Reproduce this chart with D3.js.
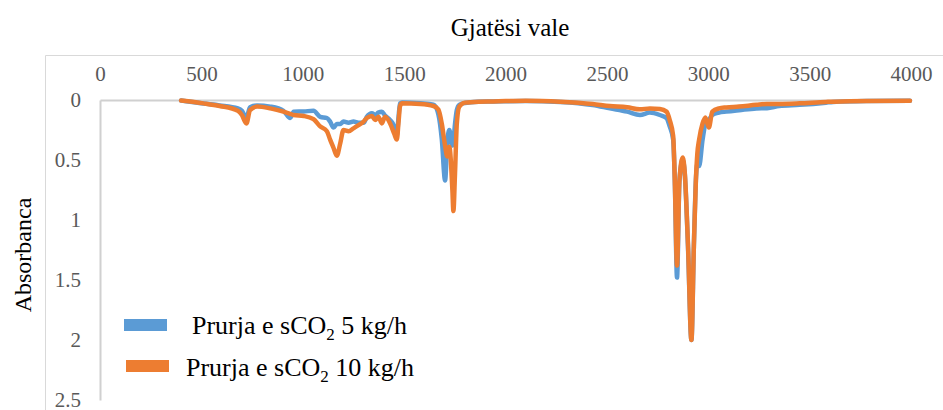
<!DOCTYPE html>
<html>
<head>
<meta charset="utf-8">
<script src="https://cdn.jsdelivr.net/npm/d3@7"></script>
<style>
  html, body { margin: 0; padding: 0; background: #fff; }
  svg { display: block; }
  svg text { font-family: "Liberation Serif", "Times New Roman", "DejaVu Serif", serif; }
</style>
</head>
<body>
<svg id="chart" width="943" height="410"></svg>
<script>
// FTIR spectra: absorbance vs wavenumber (cm-1) for two sCO2 flow rates
const wavenumbers = [
  400, 510, 590, 680, 700, 722, 740, 775, 840, 905, 938, 955, 1005, 1053, 1086,
  1119, 1135, 1152, 1168, 1185, 1201, 1226, 1250, 1275, 1300, 1316, 1341, 1357,
  1373, 1390, 1406, 1431, 1451, 1464, 1472, 1480, 1490, 1580, 1645, 1669, 1686,
  1702, 1713, 1723, 1738, 1743, 1751, 1760, 1772, 1800, 1866, 1940, 2100, 2270,
  2430, 2515, 2600, 2663, 2712, 2761, 2794, 2810, 2827, 2835, 2846, 2858, 2874,
  2884, 2900, 2917, 2929, 2939, 2946, 2955, 2972, 2986, 3003, 3020, 3053, 3089,
  3152, 3237, 3290, 3350, 3450, 3580, 3615, 3780, 3995
];

const flow5 = [
  0.005, 0.03, 0.045, 0.07, 0.09, 0.15, 0.06, 0.045, 0.055, 0.09, 0.15, 0.097, 0.095, 0.09, 0.14,
  0.15, 0.18, 0.23, 0.2, 0.2, 0.18, 0.19, 0.18, 0.19, 0.19, 0.14, 0.11, 0.125,
  0.105, 0.097, 0.13, 0.167, 0.22, 0.3, 0.15, 0.028, 0.02, 0.028, 0.04, 0.12, 0.33,
  0.67, 0.35, 0.25, 0.38, 0.35, 0.2, 0.083, 0.04, 0.025, 0.014, 0.012, 0.008, 0.016,
  0.042, 0.07, 0.097, 0.125, 0.105, 0.125, 0.15, 0.22, 0.33, 0.67, 1.48, 0.67, 0.5,
  0.61, 1.22, 2.0, 1.22, 0.67, 0.53, 0.55, 0.33, 0.2, 0.167, 0.125, 0.105, 0.097,
  0.085, 0.07, 0.068, 0.05, 0.04, 0.022, 0.016, 0.008, 0.006
];

const flow10 = [
  0.005, 0.028, 0.05, 0.09, 0.125, 0.195, 0.085, 0.055, 0.07, 0.097, 0.115, 0.125, 0.133, 0.16, 0.22,
  0.26, 0.33, 0.4, 0.465, 0.36, 0.25, 0.26, 0.236, 0.21, 0.18, 0.15, 0.133, 0.167,
  0.14, 0.195, 0.14, 0.195, 0.28, 0.33, 0.195, 0.05, 0.028, 0.033, 0.05, 0.08, 0.2,
  0.38, 0.47, 0.39, 0.75, 0.925, 0.61, 0.195, 0.055, 0.022, 0.014, 0.012, 0.006, 0.014,
  0.033, 0.05, 0.06, 0.078, 0.07, 0.075, 0.097, 0.167, 0.3, 0.67, 1.38, 0.67, 0.48,
  0.6, 1.2, 2.0, 1.22, 0.67, 0.45, 0.33, 0.195, 0.145, 0.23, 0.097, 0.07, 0.062,
  0.055, 0.04, 0.033, 0.033, 0.028, 0.016, 0.014, 0.008, 0.006
];

const xTicks = [0, 500, 1000, 1500, 2000, 2500, 3000, 3500, 4000];
const yTicks = [0, 0.5, 1, 1.5, 2, 2.5];

const seriesNames = ["Prurja e sCO", "Prurja e sCO"];
const seriesUnits = ["5 kg/h", "10 kg/h"];
const seriesColors = ["#5B9BD5", "#ED7D31"];

const serif = "'Liberation Serif', 'Times New Roman', 'DejaVu Serif', serif";
const svg = d3.select("#chart");
const gray = "#595959";
const axisGray = "#d0d0d0";

// chart frame
svg.append("path")
  .attr("d", "M45.5,410 L45.5,55.5 L943,55.5")
  .attr("fill", "none")
  .attr("stroke", "#d9d9d9")
  .attr("stroke-width", 1);

const plot = { left: 100, right: 911, top: 100, bottom: 400 };

const x = d3.scaleLinear().domain([0, 4000]).range([plot.left, plot.right]);
const y = d3.scaleLinear().domain([0, 2.5]).range([plot.top, plot.bottom]);

// top axis (wavenumber)
const xAxis = d3.axisTop(x).tickValues(xTicks).tickSize(0).tickPadding(19)
  .tickFormat(d3.format("d"));
const gx = svg.append("g").attr("transform", `translate(0,${plot.top})`).call(xAxis)
  .attr("font-family", serif);
gx.select(".domain").attr("stroke", axisGray).attr("stroke-width", 2);
gx.selectAll("text")
  .attr("fill", gray)
  .style("font-size", "21px")
  .style("font-family", serif);

// left axis (absorbance, reversed)
const yAxis = d3.axisLeft(y).tickValues(yTicks).tickSize(0).tickPadding(19)
  .tickFormat(d => d3.format("")(d));
const gy = svg.append("g").attr("transform", `translate(${plot.left},0)`).call(yAxis)
  .attr("font-family", serif);
gy.select(".domain").attr("stroke", axisGray).attr("stroke-width", 2);
gy.selectAll("text")
  .attr("fill", gray)
  .style("font-size", "21px")
  .style("font-family", serif);

// axis titles
svg.append("text")
  .attr("x", 510).attr("y", 36)
  .attr("text-anchor", "middle")
  .attr("fill", "#000")
  .style("font-family", serif)
  .style("font-size", "25px")
  .text("Gjatësi vale");

svg.append("text")
  .attr("transform", "translate(31,255) rotate(-90)")
  .attr("text-anchor", "middle")
  .attr("fill", "#000")
  .style("font-family", serif)
  .style("font-size", "24px")
  .text("Absorbanca");

// spectra
const line = d3.line()
  .x(d => x(d[0]))
  .y(d => y(d[1]))
  .curve(d3.curveMonotoneX);

[flow5, flow10].forEach((vals, i) => {
  const pts = wavenumbers.map((w, k) => [w, vals[k]]);
  svg.append("path")
    .datum(pts)
    .attr("fill", "none")
    .attr("stroke", seriesColors[i])
    .attr("stroke-width", 4.5)
    .attr("stroke-linejoin", "round")
    .attr("stroke-linecap", "round")
    .attr("d", line);
});

// legend
const legend = [
  { sw: [124, 325], tx: [192, 334] },
  { sw: [126, 366], tx: [186, 376] }
];
legend.forEach((l, i) => {
  svg.append("rect")
    .attr("x", l.sw[0]).attr("y", l.sw[1] - 6)
    .attr("width", 43).attr("height", 12)
    .attr("fill", seriesColors[i]);
  const t = svg.append("text")
    .attr("x", l.tx[0]).attr("y", l.tx[1])
    .attr("fill", "#000")
    .style("font-family", serif)
    .style("font-size", "26px");
  t.append("tspan").text(seriesNames[i]);
  t.append("tspan").attr("dy", 6).style("font-size", "17px").text("2");
  t.append("tspan").attr("dy", -6).text(" " + seriesUnits[i]);
});
</script>
</body>
</html>
